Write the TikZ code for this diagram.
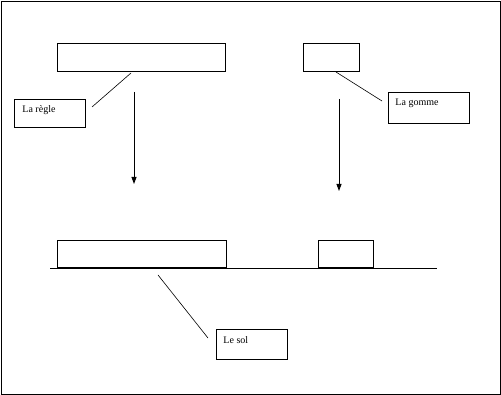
\documentclass[tikz,border=0pt]{standalone}
\usepackage{fontspec}
\setmainfont{Liberation Serif}
\usetikzlibrary{arrows.meta}
\begin{document}
\begin{tikzpicture}[x=1pt,y=-1pt,line width=0.9pt,
  obj/.style={draw,inner sep=0pt,anchor=north west},
  lbl/.style={draw,inner sep=0pt,anchor=north west},
  txt/.style={anchor=base west,inner sep=0pt,font=\fontsize{10}{12}\selectfont},
  lead/.style={line width=0.6pt},
  fall/.style={-{Triangle[length=7pt,width=5pt]}}]
\useasboundingbox (0,0) rectangle (501,395);
\draw (1,1) rectangle (500,394);
% top objects
\node[obj,minimum width=168,minimum height=28] (r1) at (57,43) {};
\node[obj,minimum width=56,minimum height=28] (g1) at (303,43) {};
% labels
\node[lbl,minimum width=71,minimum height=28] (lr) at (14,99) {};
\node[txt] at (22,113) {La règle};
\node[lbl,minimum width=81,minimum height=31] (lg) at (388,92) {};
\node[txt] at (395,106) {La gomme};
\node[lbl,minimum width=71,minimum height=30] (ls) at (216,329) {};
\node[txt] at (223,344) {Le sol};
% leader lines
\coordinate (a1) at (131,73); \coordinate (a2) at (92,107);
\draw[lead] (a1) -- (a2);
\coordinate (b1) at (336,72); \coordinate (b2) at (382,101);
\draw[lead] (b1) -- (b2);
\coordinate (c1) at (158,275); \coordinate (c2) at (208,338);
\draw[lead] (c1) -- (c2);
% falling arrows
\coordinate (f1) at (134,92); \coordinate (t1) at (134,184);
\draw[fall] (f1) -- (t1);
\coordinate (f2) at (339,99); \coordinate (t2) at (339,191);
\draw[fall] (f2) -- (t2);
% bottom objects and floor
\node[obj,minimum width=169,minimum height=27] (r2) at (57,240) {};
\node[obj,minimum width=55,minimum height=27] (g2) at (318,240) {};
\coordinate (s1) at (50,268); \coordinate (s2) at (437,268);
\draw (s1) -- (s2);
\draw[line width=1.5pt] (r2.south west) -- (r2.south east);
\end{tikzpicture}
\end{document}
